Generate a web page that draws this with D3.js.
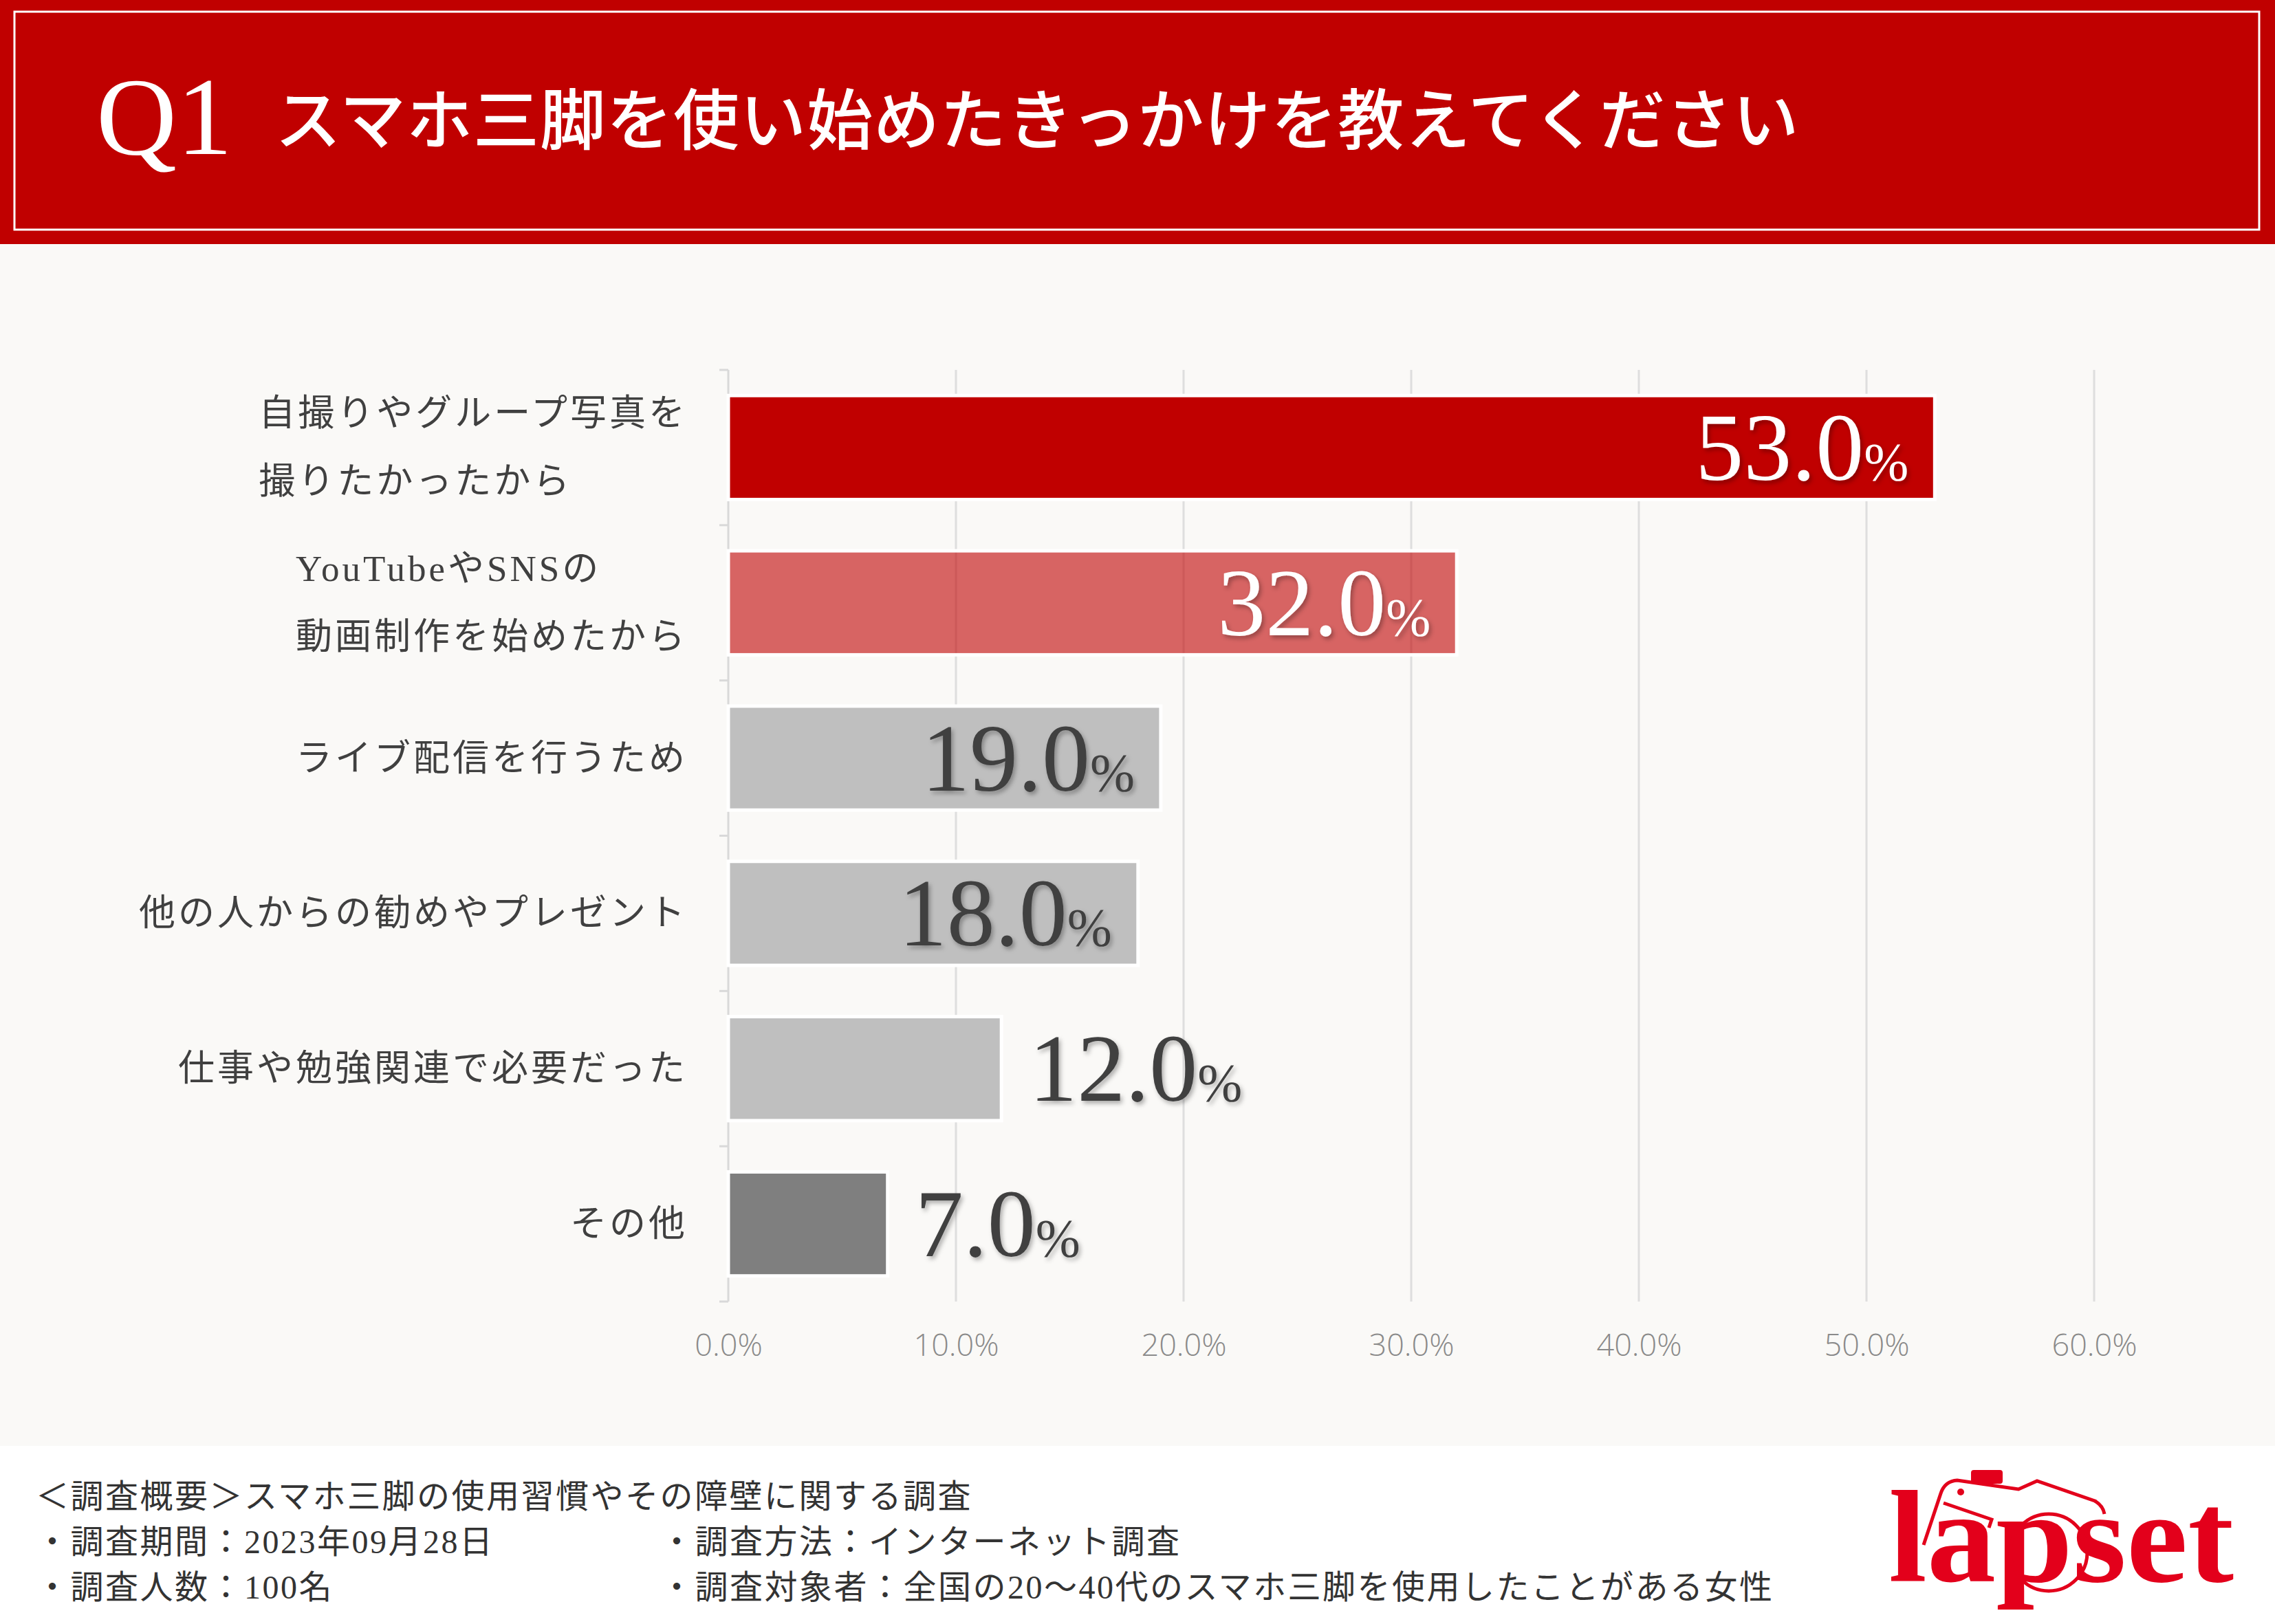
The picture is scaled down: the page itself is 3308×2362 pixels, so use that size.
<!DOCTYPE html>
<html>
<script src="https://d3js.org/d3.v7.min.js"></script>

<head>
    <style>
        html,
        body {
            margin: 0;
            padding: 0;
            background-color: #faf9f7;
        }

        svg {
            display: block;
        }
    </style>
</head>

<body>
</body>
<script>
    const width = 3308,
        height = 2362;

    // data
    const title = "スマホ三脚を使い始めたきっかけを教えてください";
    const categories = [
        "自撮りやグループ写真を\n撮りたかったから",
        "YouTubeやSNSの\n動画制作を始めたから",
        "ライブ配信を行うため",
        "他の人からの勧めやプレゼント",
        "仕事や勉強関連で必要だった",
        "その他"
    ];
    const values = [53.0, 32.0, 19.0, 18.0, 12.0, 7.0];
    const xTicks = [0, 10, 20, 30, 40, 50, 60];
    const footerLeft = [
        "＜調査概要＞スマホ三脚の使用習慣やその障壁に関する調査",
        "・調査期間：2023年09月28日",
        "・調査人数：100名"
    ];
    const footerRight = [
        "・調査方法：インターネット調査",
        "・調査対象者：全国の20〜40代のスマホ三脚を使用したことがある女性"
    ];

    // styles per bar
    const barFill = ["#c00000", "#c00000", "#bfbfbf", "#bfbfbf", "#bfbfbf", "#7f7f7f"];
    const barOpacity = [1, 0.6, 1, 1, 1, 1];
    const labelFill = ["#ffffff", "#ffffff", "#404040", "#404040", "#404040", "#404040"];

    const serifJP = "'Liberation Serif', 'Noto Sans CJK JP', serif";

    const svg = d3.select("body").append("svg").attr("width", width).attr("height", height);
    const defs = svg.append("defs");
    defs.append("filter")
        .attr("id", "shadow")
        .attr("x", "-10%").attr("y", "-10%").attr("width", "130%").attr("height", "140%")
        .append("feDropShadow")
        .attr("dx", 3).attr("dy", 4)
        .attr("stdDeviation", 3)
        .attr("flood-color", "#000")
        .attr("flood-opacity", 0.3);

    // backgrounds
    svg.append("rect").attr("width", width).attr("height", height).attr("fill", "#faf9f7");
    svg.append("rect").attr("y", 2103).attr("width", width).attr("height", height - 2103).attr("fill", "#ffffff");

    // header
    svg.append("rect").attr("width", width).attr("height", 355).attr("fill", "#c00000");
    svg.append("rect")
        .attr("x", 21).attr("y", 17)
        .attr("width", 3264).attr("height", 317)
        .attr("fill", "none")
        .attr("stroke", "#ffffff")
        .attr("stroke-width", 3);
    svg.append("text")
        .attr("x", 140).attr("y", 224)
        .attr("font-family", "'Liberation Serif', serif")
        .attr("font-size", 162)
        .attr("fill", "#ffffff")
        .text("Q1");
    svg.append("text")
        .attr("x", 400).attr("y", 167)
        .attr("dominant-baseline", "central")
        .attr("font-family", "'Noto Sans CJK JP', sans-serif")
        .attr("font-weight", 500)
        .attr("font-size", 96)
        .attr("letter-spacing", 1)
        .attr("fill", "#ffffff")
        .text(title);

    // scales
    const x = d3.scaleLinear().domain([0, 60]).range([1059, 3045]);
    const y = d3.scaleBand().domain(categories).range([538, 1893]).paddingInner(0.33).paddingOuter(0.165);
    const step = y.step();

    const chart = svg.append("g");

    // gridlines
    chart.selectAll(".grid")
        .data(xTicks.slice(1))
        .join("line")
        .attr("class", "grid")
        .attr("x1", d => x(d)).attr("x2", d => x(d))
        .attr("y1", 538).attr("y2", 1893)
        .attr("stroke", "#dedede")
        .attr("stroke-width", 3);

    // left axis with ticks between categories
    chart.append("line")
        .attr("x1", x(0)).attr("x2", x(0))
        .attr("y1", 538).attr("y2", 1893)
        .attr("stroke", "#d9d9d9")
        .attr("stroke-width", 3);
    chart.selectAll(".ytick")
        .data(d3.range(categories.length + 1))
        .join("line")
        .attr("class", "ytick")
        .attr("x1", x(0) - 13).attr("x2", x(0))
        .attr("y1", i => 538 + i * step).attr("y2", i => 538 + i * step)
        .attr("stroke", "#d9d9d9")
        .attr("stroke-width", 3);

    // bars
    chart.selectAll(".bar")
        .data(values)
        .join("rect")
        .attr("class", "bar")
        .attr("x", x(0))
        .attr("y", (d, i) => y(categories[i]))
        .attr("width", d => x(d) - x(0))
        .attr("height", y.bandwidth())
        .attr("fill", (d, i) => barFill[i])
        .attr("fill-opacity", (d, i) => barOpacity[i])
        .attr("stroke", "#ffffff")
        .attr("stroke-width", 5);

    // value labels
    const inside = d => d >= 15;
    const vl = chart.selectAll(".val")
        .data(values)
        .join("text")
        .attr("class", "val")
        .attr("x", d => inside(d) ? x(d) - 38 : x(d) + 40)
        .attr("y", (d, i) => y(categories[i]) + y.bandwidth() / 2 + 47)
        .attr("text-anchor", d => inside(d) ? "end" : "start")
        .attr("font-family", "'Liberation Serif', serif")
        .attr("fill", (d, i) => labelFill[i])
        .attr("filter", "url(#shadow)");
    vl.append("tspan").attr("font-size", 140).text(d => d.toFixed(1));
    vl.append("tspan").attr("font-size", 78).text("%");

    // category labels
    categories.forEach((c, i) => {
        const lines = c.split("\n");
        const g = chart.append("g");
        const lh = 99;
        lines.forEach((t, j) => {
            g.append("text")
                .attr("x", 0)
                .attr("y", (j - (lines.length - 1) / 2) * lh)
                .attr("dominant-baseline", "central")
                .attr("font-family", serifJP)
                .attr("font-size", 53)
                .attr("letter-spacing", 4)
                .attr("fill", "#404040")
                .text(t);
        });
        const bb = g.node().getBBox();
        g.attr("transform", `translate(${1000 - bb.width},${y(c) + y.bandwidth() / 2})`);
    });

    // x axis labels
    const xAxis = d3.axisBottom(x)
        .tickValues(xTicks)
        .tickSize(0)
        .tickPadding(0)
        .tickFormat(d => d3.format(".1f")(d) + "%");
    const ax = chart.append("g").attr("transform", "translate(0,1940)").call(xAxis);
    ax.select(".domain").remove();
    ax.selectAll("text")
        .attr("font-family", "'Open Sans', sans-serif")
        .attr("font-weight", 300)
        .attr("font-size", 45)
        .attr("fill", "#8a8a8a");

    // footer
    const foot = svg.append("g")
        .attr("font-family", serifJP)
        .attr("font-size", 48)
        .attr("letter-spacing", 2.5)
        .attr("fill", "#333333");
    foot.selectAll(".fl")
        .data(footerLeft)
        .join("text")
        .attr("class", "fl")
        .attr("x", 52)
        .attr("y", (d, i) => 2176 + i * 66)
        .attr("dominant-baseline", "central")
        .text(d => d);
    foot.selectAll(".fr")
        .data(footerRight)
        .join("text")
        .attr("class", "fr")
        .attr("x", 960)
        .attr("y", (d, i) => 2242 + i * 66)
        .attr("dominant-baseline", "central")
        .text(d => d);

    // logo
    const logo = svg.append("g");
    const red = "#e3001b";
    logo.append("path")
        .attr("d", "M2797,2247 L2822,2172 Q2828,2154 2846,2153 L2935,2166 L2962,2154 L3046,2183 Q3058,2190 3060,2202 M2826,2186 L2896,2210 L2892,2222")
        .attr("fill", "none")
        .attr("stroke", red)
        .attr("stroke-width", 5);
    logo.append("rect")
        .attr("x", 2866).attr("y", 2138).attr("width", 46).attr("height", 20)
        .attr("rx", 4)
        .attr("fill", red);
    logo.append("circle").attr("cx", 2851).attr("cy", 2170).attr("r", 5).attr("fill", red);
    logo.append("text")
        .attr("x", 2746).attr("y", 2300)
        .attr("font-family", "'Liberation Serif', serif")
        .attr("font-weight", 700)
        .attr("font-size", 190)
        .attr("textLength", 502)
        .attr("lengthAdjust", "spacingAndGlyphs")
        .attr("fill", red)
        .text("lapset");
    logo.append("circle")
        .attr("cx", 2979).attr("cy", 2258).attr("r", 56)
        .attr("fill", "none")
        .attr("stroke", red)
        .attr("stroke-width", 5);
</script>

</html>
